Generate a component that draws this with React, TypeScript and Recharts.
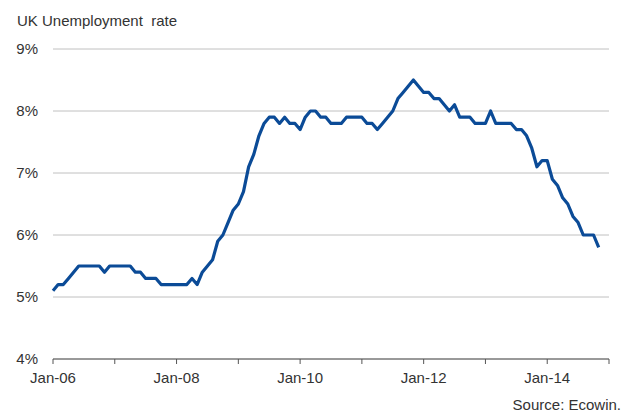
import React from 'react';
import { LineChart, Line, XAxis, YAxis, CartesianGrid } from 'recharts';

const startYear = 2006;
const rates: number[] = [
  // 2006
  5.1, 5.2, 5.2, 5.3, 5.4, 5.5, 5.5, 5.5, 5.5, 5.5, 5.4, 5.5,
  // 2007
  5.5, 5.5, 5.5, 5.5, 5.4, 5.4, 5.3, 5.3, 5.3, 5.2, 5.2, 5.2,
  // 2008
  5.2, 5.2, 5.2, 5.3, 5.2, 5.4, 5.5, 5.6, 5.9, 6.0, 6.2, 6.4,
  // 2009
  6.5, 6.7, 7.1, 7.3, 7.6, 7.8, 7.9, 7.9, 7.8, 7.9, 7.8, 7.8,
  // 2010
  7.7, 7.9, 8.0, 8.0, 7.9, 7.9, 7.8, 7.8, 7.8, 7.9, 7.9, 7.9,
  // 2011
  7.9, 7.8, 7.8, 7.7, 7.8, 7.9, 8.0, 8.2, 8.3, 8.4, 8.5, 8.4,
  // 2012
  8.3, 8.3, 8.2, 8.2, 8.1, 8.0, 8.1, 7.9, 7.9, 7.9, 7.8, 7.8,
  // 2013
  7.8, 8.0, 7.8, 7.8, 7.8, 7.8, 7.7, 7.7, 7.6, 7.4, 7.1, 7.2,
  // 2014
  7.2, 6.9, 6.8, 6.6, 6.5, 6.3, 6.2, 6.0, 6.0, 6.0, 5.8,
];

const xTicks: number[] = [0, 12, 24, 36, 48, 60, 72, 84, 96, 108];
const labelledTicks: number[] = [0, 24, 48, 72, 96];
const yTicks: number[] = [4, 5, 6, 7, 8, 9];

const data = rates.map((v, i) => ({ m: i, rate: v }));

const fmtX = (m: number) => {
  if (!labelledTicks.includes(m)) return '';
  const yy = String((startYear + m / 12) % 100).padStart(2, '0');
  return `Jan-${yy}`;
};

const FONT = '"Liberation Sans", Arial, sans-serif';
const TEXT = '#333333';

export default function App() {
  return (
    <div style={{ position: 'absolute', left: 0, top: 0, width: 627, height: 412, background: '#fff' }}>
      <div
        style={{
          position: 'absolute',
          left: 17,
          top: 13,
          fontFamily: FONT,
          fontSize: 15,
          lineHeight: '15px',
          color: TEXT,
          whiteSpace: 'pre',
        }}
      >
        {'UK Unemployment  rate'}
      </div>
      <LineChart
        width={627}
        height={412}
        data={data}
        margin={{ top: 49, right: 18, bottom: 23, left: 0 }}
      >
        <CartesianGrid horizontal vertical={false} stroke="#c0c0c0" strokeWidth={1} />
        <XAxis
          dataKey="m"
          type="number"
          domain={[0, 108]}
          ticks={xTicks}
          interval={0}
          tickFormatter={fmtX}
          height={30}
          tickSize={5}
          tickMargin={8}
          axisLine={{ stroke: '#555555' }}
          tickLine={{ stroke: '#555555' }}
          tick={{ fontFamily: FONT, fontSize: 15, fill: TEXT }}
        />
        <YAxis
          type="number"
          domain={[4, 9]}
          ticks={yTicks}
          interval={0}
          width={53}
          axisLine={false}
          tickLine={false}
          tickSize={0}
          tickMargin={15}
          tickFormatter={(v: number) => `${v}%`}
          tick={{ fontFamily: FONT, fontSize: 15, fill: TEXT }}
        />
        <Line
          type="linear"
          dataKey="rate"
          stroke="#0b4b97"
          strokeWidth={3.2}
          dot={false}
          isAnimationActive={false}
          strokeLinejoin="round"
        />
      </LineChart>
      <div
        style={{
          position: 'absolute',
          right: 6,
          top: 397,
          fontFamily: FONT,
          fontSize: 15,
          lineHeight: '15px',
          color: TEXT,
          whiteSpace: 'pre',
        }}
      >
        {'Source: Ecowin.'}
      </div>
    </div>
  );
}
